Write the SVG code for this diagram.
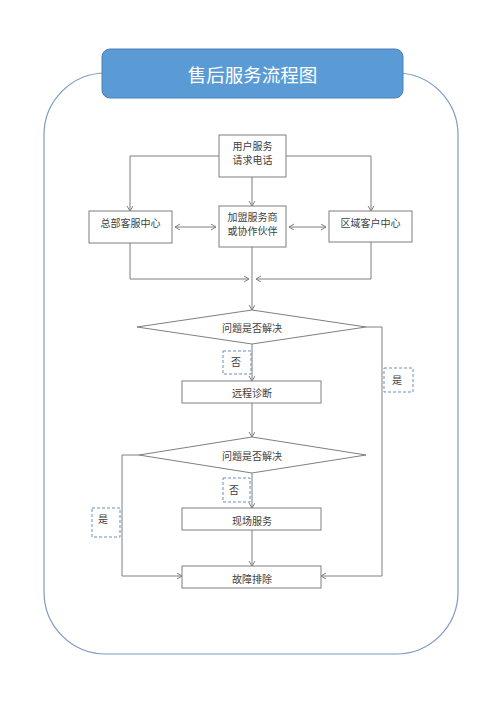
<svg xmlns="http://www.w3.org/2000/svg" width="500" height="706" viewBox="0 0 500 706">
<defs>
<marker id="arr" markerUnits="userSpaceOnUse" markerWidth="8" markerHeight="8" refX="5" refY="3" orient="auto-start-reverse">
<path d="M0,0 L5,3 L0,6" fill="none" stroke="#7f7f7f" stroke-width="1"/>
</marker>
</defs>
<style>
.box{fill:#fff;stroke:#7f7f7f;stroke-width:1}
.lbl{fill:#fff;stroke:#6a8fc0;stroke-width:1;stroke-dasharray:3,2}
.t{font-family:"Noto Sans CJK SC","Noto Sans",sans-serif;font-size:10px;fill:#404040;text-anchor:middle;dominant-baseline:central}
.ln{fill:none;stroke:#7f7f7f;stroke-width:1}
.a{marker-end:url(#arr)}
</style>
<rect width="500" height="706" fill="#fff"/>
<rect x="44" y="73" width="414" height="581" rx="62" ry="62" fill="none" stroke="#7b9bc2" stroke-width="1.2"/>
<g id="title">
<rect x="102" y="49" width="301" height="49" rx="8" fill="#5b9bd5" stroke="#4a80b8" stroke-width="1"/>
<text x="252.5" y="74" font-family="'Noto Sans CJK SC',sans-serif" font-size="18.5" fill="#fff" text-anchor="middle" dominant-baseline="central">售后服务流程图</text>
</g>
<g id="connectors">
<path class="ln a" d="M219,156 H130 V211"/>
<path class="ln a" d="M286,156 H371 V211"/>
<path class="ln a" d="M252,177 V206"/>
<path class="ln a" d="M175,227 H216" marker-start="url(#arr)"/>
<path class="ln a" d="M289,227 H326" marker-start="url(#arr)"/>
<path class="ln a" d="M130,243 V279 H249"/>
<path class="ln a" d="M371,242 V279 H256"/>
<path class="ln a" d="M252,247 V310"/>
<path class="ln a" d="M252,344 V381"/>
<path class="ln a" d="M366,327 H382 V576 H321"/>
<path class="ln a" d="M252,403 V437"/>
<path class="ln a" d="M252,473 V508"/>
<path class="ln a" d="M139,455 H122 V576 H182"/>
<path class="ln a" d="M252,530 V566"/>
</g>
<g id="n1"><rect class="box" x="219" y="135" width="67" height="42"/><text class="t" x="252.5" y="145">用户服务</text><text class="t" x="252.5" y="159">请求电话</text></g>
<g id="n2"><rect class="box" x="89" y="211" width="83" height="32"/><text class="t" x="130.5" y="222">总部客服中心</text></g>
<g id="n3"><rect class="box" x="219" y="206" width="67" height="41"/><text class="t" x="252.5" y="216">加盟服务商</text><text class="t" x="252.5" y="230">或协作伙伴</text></g>
<g id="n4"><rect class="box" x="329" y="211" width="83" height="31"/><text class="t" x="370.5" y="222">区域客户中心</text></g>
<g id="d1"><path class="box" d="M137,327 L252,310 L366,327 L252,344 Z"/><text class="t" x="252" y="327">问题是否解决</text></g>
<g id="l1"><rect class="lbl" x="223" y="351" width="28" height="23"/><text class="t" x="236" y="361">否</text></g>
<g id="l2"><rect class="lbl" x="384" y="368" width="29" height="24"/><text class="t" x="397" y="379">是</text></g>
<g id="n5"><rect class="box" x="182" y="381" width="139" height="22"/><text class="t" x="252" y="392">远程诊断</text></g>
<g id="d2"><path class="box" d="M139,455 L252,437 L366,455 L252,473 Z"/><text class="t" x="252" y="455">问题是否解决</text></g>
<g id="l3"><rect class="lbl" x="223" y="478" width="27" height="24"/><text class="t" x="234" y="489">否</text></g>
<g id="l4"><rect class="lbl" x="92" y="508" width="28" height="29"/><text class="t" x="103" y="518">是</text></g>
<g id="n6"><rect class="box" x="182" y="508" width="139" height="22"/><text class="t" x="252" y="520">现场服务</text></g>
<g id="n7"><rect class="box" x="182" y="566" width="139" height="22"/><text class="t" x="252" y="578">故障排除</text></g>
</svg>
